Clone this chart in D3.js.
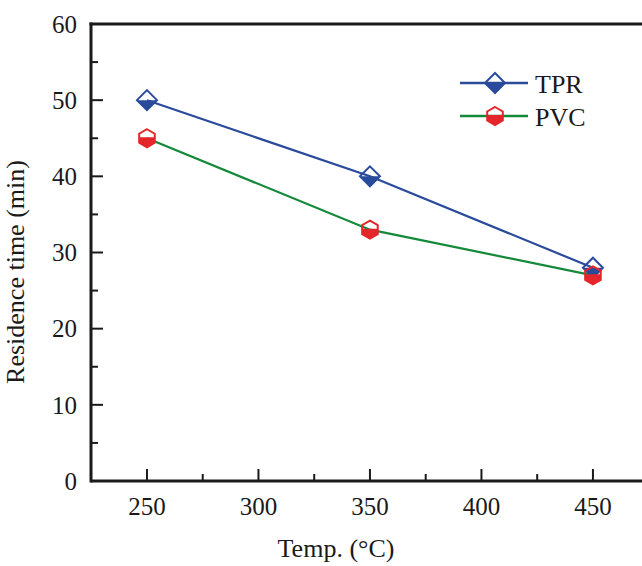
<!DOCTYPE html>
<html>
<head>
<meta charset="utf-8">
<script src="https://cdn.jsdelivr.net/npm/d3@7"></script>
<style>
  body { margin: 0; background: #fff; }
  text { font-family: "Liberation Serif", "Times New Roman", serif; fill: #1a1a1a; }
</style>
</head>
<body>
<div id="chart"></div>
<script>
const temps = [250, 350, 450];
const tprValues = [50, 40, 28];
const pvcValues = [45, 33, 27];
const xTicks = [250, 300, 350, 400, 450];
const yTicks = [0, 10, 20, 30, 40, 50, 60];

const W = 642, H = 566;
const margin = {top: 24, right: 0, bottom: 85, left: 91};
const width = W - margin.left - margin.right,
      height = H - margin.top - margin.bottom;

const blue = "#2a4a9c", green = "#14893a", red = "#e3262a";

const svg = d3.select("#chart").append("svg")
    .attr("width", W).attr("height", H);

const g = svg.append("g")
    .attr("transform", "translate(" + margin.left + "," + margin.top + ")");

// x: 250 at ~147px, 450 at ~593px (the right part of the frame is cut off)
const x = d3.scaleLinear().domain([224.9, 472.0]).range([0, width]);
const y = d3.scaleLinear().domain([0, 60]).range([height, 0]);

// frame top line
g.append("line").attr("x1", -1.5).attr("x2", width + 10).attr("y1", 0).attr("y2", 0)
    .attr("stroke", "#1a1a1a").attr("stroke-width", 3);

// x axis
const xAxis = g.append("g").attr("transform", "translate(0," + height + ")");
xAxis.append("line").attr("x1", 0).attr("x2", width + 10)
    .attr("stroke", "#1a1a1a").attr("stroke-width", 3);
xAxis.selectAll(".major").data(xTicks).enter().append("line")
    .attr("x1", d => x(d)).attr("x2", d => x(d)).attr("y1", 0).attr("y2", -12)
    .attr("stroke", "#1a1a1a").attr("stroke-width", 2);
xAxis.selectAll(".minor").data(xTicks.slice(0, -1).map(d => d + 25)).enter().append("line")
    .attr("x1", d => x(d)).attr("x2", d => x(d)).attr("y1", 0).attr("y2", -7)
    .attr("stroke", "#1a1a1a").attr("stroke-width", 2);
xAxis.selectAll(".lbl").data(xTicks).enter().append("text")
    .attr("x", d => x(d)).attr("y", 34).attr("text-anchor", "middle")
    .attr("font-size", 25).text(d => d);

// y axis
const yAxis = g.append("g");
yAxis.append("line").attr("y1", -1.5).attr("y2", height + 1.5)
    .attr("stroke", "#1a1a1a").attr("stroke-width", 3);
yAxis.selectAll(".major").data(yTicks).enter().append("line")
    .attr("x1", 0).attr("x2", 12).attr("y1", d => y(d)).attr("y2", d => y(d))
    .attr("stroke", "#1a1a1a").attr("stroke-width", 2);
yAxis.selectAll(".minor").data(yTicks.slice(0, -1).map(d => d + 5)).enter().append("line")
    .attr("x1", 0).attr("x2", 7).attr("y1", d => y(d)).attr("y2", d => y(d))
    .attr("stroke", "#1a1a1a").attr("stroke-width", 2);
yAxis.selectAll(".lbl").data(yTicks).enter().append("text")
    .attr("x", -14).attr("y", d => y(d)).attr("dy", "0.35em").attr("text-anchor", "end")
    .attr("font-size", 25).text(d => d);

// axis titles
svg.append("text").attr("x", 336).attr("y", 557)
    .attr("text-anchor", "middle").attr("font-size", 26).text("Temp. (°C)");
svg.append("text")
    .attr("transform", "translate(24,272) rotate(-90)")
    .attr("text-anchor", "middle").attr("font-size", 26).text("Residence time (min)");

// markers
function diamond(sel, cx, cy) {
    const r = 10;
    const m = sel.append("g").attr("transform", "translate(" + cx + "," + cy + ")");
    m.append("path").attr("d", `M${-r},0 L0,${r} L${r},0 Z`).attr("fill", blue);
    m.append("path").attr("d", `M0,${-r} L${r},0 L0,${r} L${-r},0 Z`)
        .attr("fill", "none").attr("stroke", blue).attr("stroke-width", 2);
}
function hexagon(sel, cx, cy) {
    const r = 9;
    const pts = d3.range(6).map(i => {
        const a = -Math.PI / 2 + i * Math.PI / 3;
        return [r * Math.cos(a), r * Math.sin(a)];
    });
    const m = sel.append("g").attr("transform", "translate(" + cx + "," + cy + ")");
    m.append("path").attr("d", `M${pts[1][0]},-1 L${pts[2][0]},${pts[2][1]} L0,${r} L${pts[4][0]},${pts[4][1]} L${pts[5][0]},-1 Z`)
        .attr("fill", red);
    m.append("path").attr("d", "M" + pts.map(p => p.join(",")).join("L") + "Z")
        .attr("fill", "none").attr("stroke", red).attr("stroke-width", 2);
}

const line = d3.line().x(d => x(d[0])).y(d => y(d[1]));
const tprData = temps.map((t, i) => [t, tprValues[i]]);
const pvcData = temps.map((t, i) => [t, pvcValues[i]]);

g.append("path").datum(tprData).attr("d", line)
    .attr("fill", "none").attr("stroke", blue).attr("stroke-width", 2.2);
g.append("path").datum(pvcData).attr("d", line)
    .attr("fill", "none").attr("stroke", green).attr("stroke-width", 2.2);

tprData.forEach(d => diamond(g, x(d[0]), y(d[1])));
pvcData.forEach(d => hexagon(g, x(d[0]), y(d[1])));

// legend
const legend = svg.append("g");
const series = [
    {name: "TPR", color: blue, mark: diamond, y: 83},
    {name: "PVC", color: green, mark: hexagon, y: 116}
];
series.forEach(s => {
    legend.append("line").attr("x1", 460).attr("x2", 528).attr("y1", s.y).attr("y2", s.y)
        .attr("stroke", s.color).attr("stroke-width", 2.5);
    s.mark(legend, 495, s.y);
    legend.append("text").attr("x", 535).attr("y", s.y + 10)
        .attr("font-size", 26).text(s.name);
});
</script>
</body>
</html>
